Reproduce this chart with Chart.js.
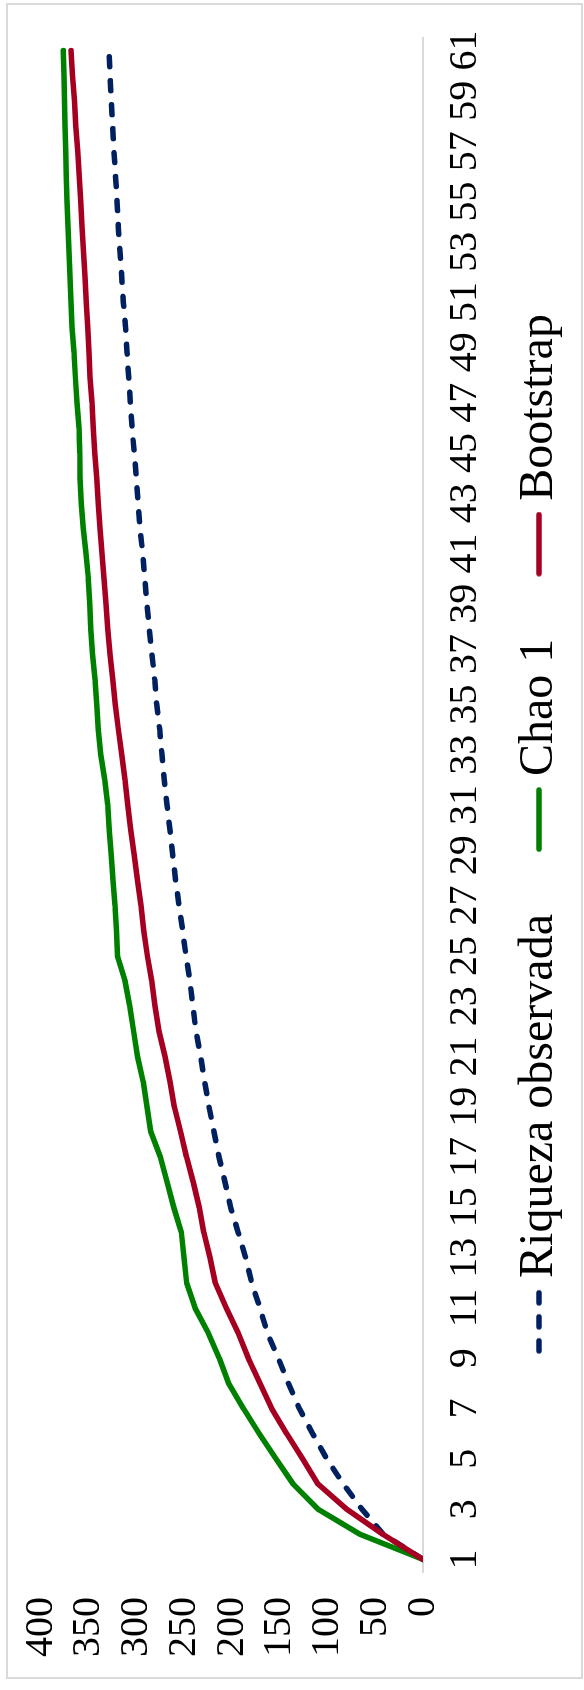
<!DOCTYPE html>
<html>
<head>
<meta charset="utf-8">
<script src="https://cdn.jsdelivr.net/npm/chart.js@4.4.1/dist/chart.umd.min.js"></script>
<style>
  html, body { margin: 0; padding: 0; background: #fff; }
  body { width: 584px; height: 1690px; position: relative; overflow: hidden; }
  /* the chart is drawn landscape, then turned a quarter left */
  #wrap { position: absolute; left: 0; top: 1690px; width: 1690px; height: 584px;
          transform-origin: 0 0; transform: rotate(-90deg); }
</style>
</head>
<body>
<div id="wrap"><canvas id="chart" width="1690" height="584"></canvas></div>
<script>
// ================= DATA =================
const samples = ['1','2','3','4','5','6','7','8','9','10','11','12','13','14','15','16','17','18','19','20',
  '21','22','23','24','25','26','27','28','29','30','31','32','33','34','35','36','37','38','39','40',
  '41','42','43','44','45','46','47','48','49','50','51','52','53','54','55','56','57','58','59','60','61'];

const riquezaObservada = [0, 41.6, 64, 83.4, 100.8, 115.5, 129.5, 141, 151.5, 163,
  170.7, 179.4, 185.7, 193.5, 201.4, 207.3, 213.6, 218.8, 224.1, 228.6,
  232.8, 237.7, 241, 244, 248.2, 251.6, 255.5, 259, 262.1, 264.9,
  268, 270.9, 273.3, 275.7, 278.9, 281, 283.8, 286.6, 289, 291.4,
  293.5, 296.3, 298.4, 300.2, 302.3, 304.7, 306.4, 308.2, 309.9, 311.5,
  313.8, 315.5, 317.3, 319, 320.4, 321.9, 323.6, 325, 326.4, 327.7, 328.8];

const chao1 = [0, 66, 110, 136, 154, 171.5, 188, 203.5, 213.3, 224.8,
  238.7, 247.5, 250.3, 253, 261, 268, 275, 285, 289, 293,
  299, 303, 307, 312, 320, 321, 322.5, 324.6, 326.4, 328.5,
  330, 333.3, 337.5, 340, 341.7, 343.5, 346, 348, 349, 350.4,
  352.9, 355.7, 357.8, 359.2, 359.4, 360.2, 362.3, 364, 365.4, 367.5,
  368.6, 369.6, 370.7, 371.7, 372.8, 373.5, 374.2, 374.9, 375.3, 375.9, 376.6];

const bootstrap = [0, 42, 80, 110, 126, 142.7, 158.4, 170.7, 182.9, 193.4,
  206, 217.5, 223, 229.5, 234.3, 240.6, 247.6, 253.8, 260.4, 265,
  270.2, 276.4, 280.6, 284.1, 288.6, 292.4, 295.3, 299, 302.3, 306,
  309.2, 312, 315.5, 319, 322.2, 324.9, 327.7, 330, 331.9, 334,
  336.1, 338.2, 340, 341.7, 343.8, 345.2, 346.6, 348.7, 349.8, 351,
  352.5, 354, 355.5, 357, 358.5, 360, 361.5, 363.5, 365, 367, 368.5];

// ================= STYLE =================
const FONT = "'Liberation Serif', 'Times New Roman', serif";
const NAVY = '#002060', GREEN = '#008000', RED = '#a50021';
const LINE_W = 5.5;
const DASH = [10, 14];

// legend marker: short line sitting at the right end of a small canvas,
// so it lands close to its label text
function legendMarker(color, dash) {
  const c = document.createElement('canvas');
  c.width = 108; c.height = 12;
  const g = c.getContext('2d');
  g.strokeStyle = color;
  g.lineWidth = LINE_W;
  g.lineCap = 'round';
  g.setLineDash(dash);
  g.beginPath();
  g.moveTo(108 - 62, 6);
  g.lineTo(108 - 3, 6);
  g.stroke();
  return c;
}

// thin grey frame round the whole chart
const framePlugin = {
  id: 'frame',
  beforeDraw(chart) {
    const c = chart.ctx;
    c.save();
    c.strokeStyle = '#d9d9d9';
    c.lineWidth = 2;
    c.strokeRect(12, 7, 1674, 575);
    c.restore();
  }
};

// ================= CHART =================
new Chart(document.getElementById('chart').getContext('2d'), {
  type: 'line',
  data: {
    labels: samples,
    datasets: [
      { label: 'Riqueza observada', data: riquezaObservada, order: 3,
        borderColor: NAVY, borderWidth: LINE_W, borderDash: DASH,
        borderCapStyle: 'round', borderJoinStyle: 'round', pointRadius: 0, tension: 0,
        pointStyle: legendMarker(NAVY, DASH) },
      { label: 'Chao 1', data: chao1, order: 2,
        borderColor: GREEN, borderWidth: LINE_W,
        borderCapStyle: 'round', borderJoinStyle: 'round', pointRadius: 0, tension: 0,
        pointStyle: legendMarker(GREEN, []) },
      { label: 'Bootstrap', data: bootstrap, order: 1,
        borderColor: RED, borderWidth: LINE_W,
        borderCapStyle: 'round', borderJoinStyle: 'round', pointRadius: 0, tension: 0,
        pointStyle: legendMarker(RED, []) }
    ]
  },
  options: {
    responsive: false,
    animation: false,
    layout: { padding: { left: 30, right: 38, top: 41, bottom: 11 } },
    scales: {
      x: {
        offset: true,
        grid: { display: false, drawTicks: false },
        border: { display: true, color: '#d9d9d9', width: 2 },
        ticks: {
          autoSkip: false, maxRotation: 0, minRotation: 0, padding: 18,
          color: '#000', font: { family: FONT, size: 40 },
          callback: (v, i) => (i % 2 === 0 ? samples[i] : '')
        },
        afterFit: s => { s.height = 60; }
      },
      y: {
        min: 0, max: 400,
        grid: { display: false, drawTicks: false },
        border: { display: false },
        ticks: { stepSize: 50, autoSkip: false, padding: 25, color: '#000',
                 font: { family: FONT, size: 40 } },
        // fixed width; labels overflow into the layout padding instead of shrinking the plot
        afterFit: s => { s.width = 88; s.paddingTop = 0; s.paddingBottom = 0; }
      }
    },
    plugins: {
      legend: {
        position: 'bottom',
        maxHeight: 90,
        labels: {
          usePointStyle: true, pointStyleWidth: 82, boxWidth: 82,
          padding: 32, color: '#000', font: { family: FONT, size: 48 },
          sort: (a, b) => a.datasetIndex - b.datasetIndex
        }
      },
      tooltip: { enabled: false }
    }
  },
  plugins: [framePlugin]
});
</script>
</body>
</html>
